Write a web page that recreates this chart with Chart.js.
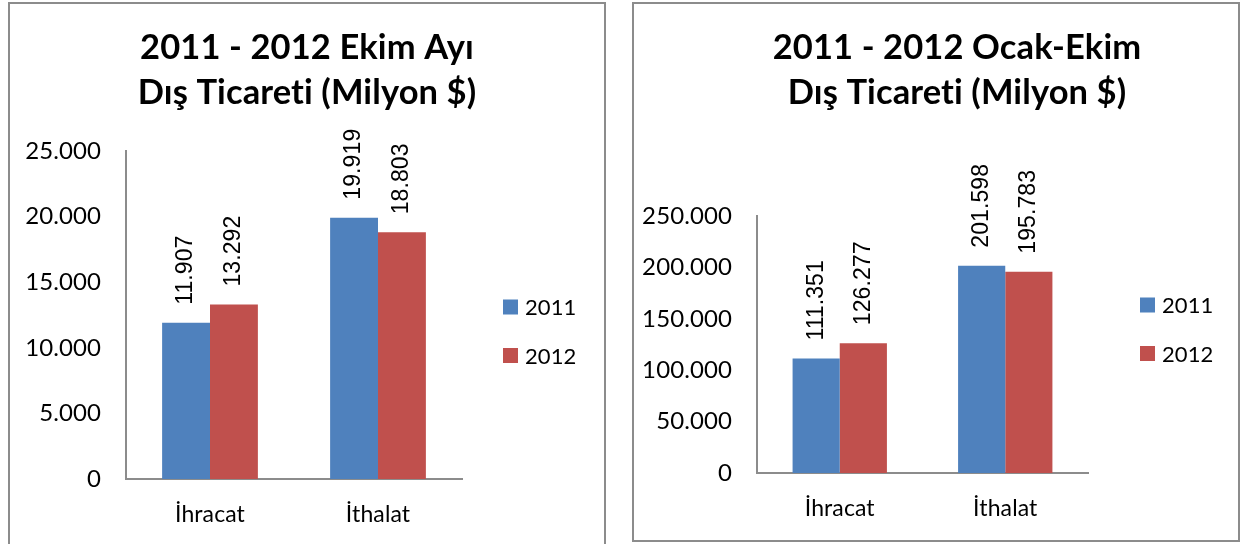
<!DOCTYPE html>
<html>
<head>
<meta charset="utf-8">
<script src="https://cdn.jsdelivr.net/npm/chart.js@4.4.0/dist/chart.umd.min.js"></script>
<style>
  html, body { margin: 0; padding: 0; background: #fff; overflow: hidden; }
  body { width: 1241px; height: 544px; position: relative; }
  .box { position: absolute; border: 2px solid #8c8c8c; background: #fff; }
  #boxLeft { left: 8px; top: 2px; width: 594px; height: 556px; }
  #boxRight { left: 632px; top: 2px; width: 604px; height: 536px; }
  canvas { display: block; }
</style>
</head>
<body>
<div class="box" id="boxLeft"><canvas id="ekimChart" width="594" height="556"></canvas></div>
<div class="box" id="boxRight"><canvas id="ocakEkimChart" width="604" height="536"></canvas></div>

<script>
// ---------------- DATA ----------------
const categories = ['İhracat', 'İthalat'];
const years = ['2011', '2012'];

// Ekim ayı (Milyon $)
const ekim2011 = [11907, 19919];
const ekim2012 = [13292, 18803];
const ekimTitle = ['2011 - 2012 Ekim Ayı', 'Dış Ticareti (Milyon $)'];
const ekimMax = 25000;
const ekimStep = 5000;

// Ocak-Ekim (Milyon $)
const ocakEkim2011 = [111351, 201598];
const ocakEkim2012 = [126277, 195783];
const ocakEkimTitle = ['2011 - 2012 Ocak-Ekim', 'Dış Ticareti (Milyon $)'];
const ocakEkimMax = 250000;
const ocakEkimStep = 50000;

const colors = ['#4F81BD', '#C0504D'];
const axisColor = '#8c8c8c';
const uiFont = 'Lato, "Open Sans", sans-serif';

// turkish style thousands separator: 25000 -> 25.000
function fmt(n) {
    return Math.round(n).toString().replace(/\B(?=(\d{3})+(?!\d))/g, '.');
}

// ---------------- PLUGINS ----------------
// vertical value labels above each bar
const barLabels = {
    id: 'barLabels',
    afterDatasetsDraw(chart) {
        const ctx = chart.ctx;
        ctx.save();
        ctx.fillStyle = '#000';
        ctx.font = '23px "Liberation Sans", Arial, sans-serif';
        ctx.textAlign = 'left';
        ctx.textBaseline = 'middle';
        chart.data.datasets.forEach((ds, i) => {
            chart.getDatasetMeta(i).data.forEach((bar, j) => {
                ctx.save();
                ctx.translate(bar.x, bar.y - 18);
                ctx.rotate(-Math.PI / 2);
                ctx.fillText(fmt(ds.data[j]), 0, 0);
                ctx.restore();
            });
        });
        ctx.restore();
    }
};

// simple legend at the right side, like the excel one
const sideLegend = {
    id: 'sideLegend',
    afterDraw(chart, args, opts) {
        const ctx = chart.ctx;
        const x = chart.chartArea.right + opts.offsetX;
        ctx.save();
        ctx.font = '22px ' + uiFont;
        ctx.textAlign = 'left';
        ctx.textBaseline = 'middle';
        chart.data.datasets.forEach((ds, i) => {
            const y = opts.firstY + i * opts.gap;
            ctx.fillStyle = ds.backgroundColor;
            ctx.fillRect(x, y - 7.5, 15, 15);
            ctx.fillStyle = '#000';
            ctx.fillText(ds.label, x + 22, y + 1);
        });
        ctx.restore();
    }
};

// the title box stops at the right padding, so push it back to the middle of the frame
const titleShift = {
    id: 'titleShift',
    afterLayout(chart, args, opts) {
        if (chart.titleBlock && opts.dx) {
            chart.titleBlock.left += opts.dx;
            chart.titleBlock.right += opts.dx;
        }
    },
    // tiny letter spacing keeps Lato from joining "ti" into a ligature
    beforeDraw(chart) {
        if ('letterSpacing' in chart.ctx) chart.ctx.letterSpacing = '0.1px';
    }
};

// ---------------- CHART BUILDER ----------------
function makeChart(id, title, v2011, v2012, yMax, yStep, lay) {
    return new Chart(document.getElementById(id), {
        type: 'bar',
        data: {
            labels: categories,
            datasets: [
                { label: years[0], data: v2011, backgroundColor: colors[0] },
                { label: years[1], data: v2012, backgroundColor: colors[1] }
            ]
        },
        options: {
            responsive: false,
            animation: false,
            devicePixelRatio: 1,
            layout: {
                padding: { left: 0, right: lay.right, top: 22, bottom: 0 }
            },
            datasets: {
                bar: { categoryPercentage: 0.57, barPercentage: 1.0 }
            },
            plugins: {
                legend: { display: false },
                tooltip: { enabled: false },
                title: {
                    display: true,
                    text: title,
                    color: '#000',
                    font: { family: uiFont, size: 34.5, weight: 'bold', lineHeight: 1.29 },
                    padding: { top: 0, bottom: lay.titleBottom }
                },
                sideLegend: { offsetX: lay.legendX, firstY: lay.legendY, gap: 48.5 },
                titleShift: { dx: lay.titleDx }
            },
            scales: {
                x: {
                    grid: { display: false },
                    border: { display: true, color: axisColor, width: 2 },
                    ticks: { color: '#000', font: { family: uiFont, size: 23 }, padding: 14 },
                    afterFit: s => { s.height = lay.xHeight; }
                },
                y: {
                    min: 0,
                    max: yMax,
                    grid: { display: false, drawTicks: false },
                    border: { display: true, color: axisColor, width: 2 },
                    ticks: {
                        stepSize: yStep,
                        color: '#000',
                        padding: 25,
                        font: { family: uiFont, size: 24 },
                        callback: v => fmt(v)
                    },
                    afterFit: s => { s.width = lay.yWidth; }
                }
            }
        },
        plugins: [barLabels, sideLegend, titleShift]
    });
}

makeChart('ekimChart', ekimTitle, ekim2011, ekim2012, ekimMax, ekimStep, {
    right: 142, titleBottom: 36, xHeight: 81, yWidth: 116,
    legendX: 41, legendY: 303, titleDx: 71
});

makeChart('ocakEkimChart', ocakEkimTitle, ocakEkim2011, ocakEkim2012, ocakEkimMax, ocakEkimStep, {
    right: 150, titleBottom: 101, xHeight: 67, yWidth: 123,
    legendX: 52, legendY: 301, titleDx: 96
});
</script>
</body>
</html>
